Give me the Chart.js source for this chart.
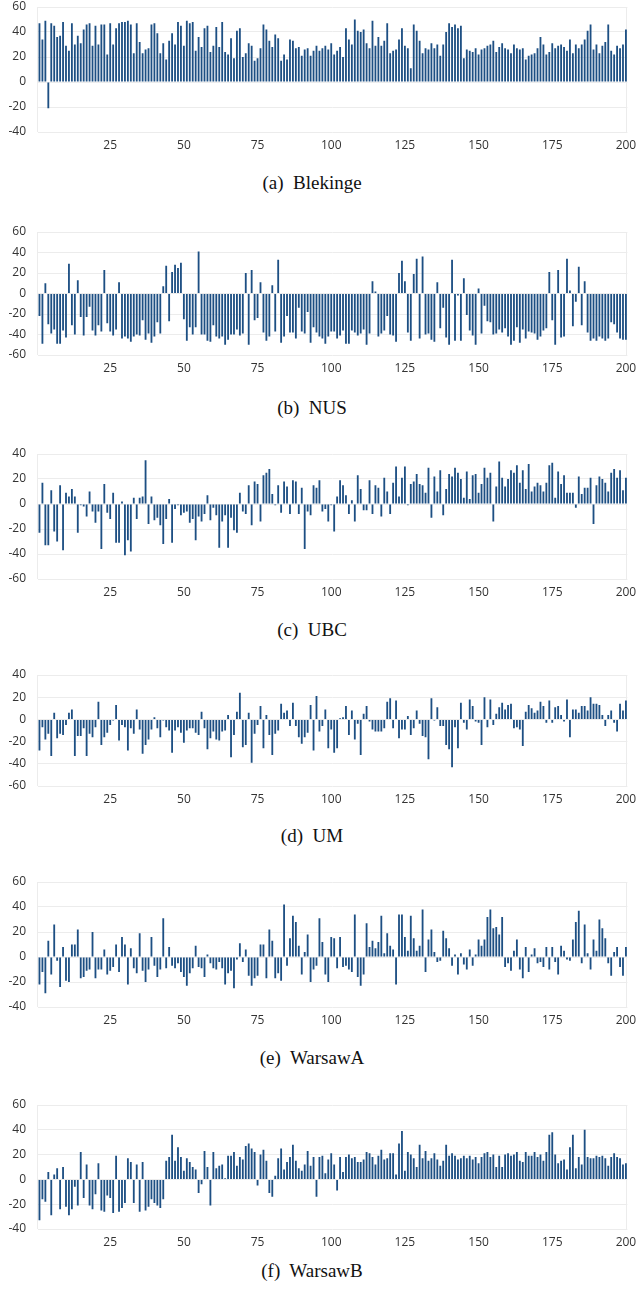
<!DOCTYPE html>
<html><head><meta charset="utf-8">
<script src="https://cdn.jsdelivr.net/npm/chart.js@4"></script>
<style>
html,body{margin:0;padding:0;background:#fff;}
body{width:636px;height:1289px;position:relative;overflow:hidden;}
canvas.panel{position:absolute;left:0;}
.cap{position:absolute;left:0;width:624px;text-align:center;font-family:"Liberation Serif","Times New Roman",serif;font-size:19px;line-height:20px;color:#111;white-space:pre;}
</style></head><body>
<script>
const categories = Array.from({length:200}, (_, i) => String(i + 1));
const tickLabelEvery = 25;

const blekinge = [47,34,49,-21,47,45,36,37,48,29, 25,47,30,37,31,42,46,47,29,45, 30,46,46,22,47,30,43,47,48,48, 49,46,23,47,32,23,26,27,46,47,
 39,23,31,18,33,39,30,48,45,29, 49,47,48,25,36,28,43,45,24,29, 44,28,48,24,22,35,19,41,43,20, 23,31,29,17,19,27,46,42,33,28,
 38,35,17,22,18,34,33,27,28,21, 26,27,21,25,29,25,27,29,26,31, 22,25,28,20,43,34,30,50,41,40, 42,31,27,49,29,36,29,33,47,23,
 25,26,34,43,29,27,11,46,41,33, 23,27,26,31,27,30,21,30,40,47, 44,46,43,45,19,26,25,24,27,22, 26,27,29,30,33,24,28,31,27,26,
 23,30,27,26,27,18,21,22,23,27, 36,30,22,24,31,27,29,30,28,25, 34,23,30,27,30,34,41,46,26,30, 23,29,32,46,25,22,29,27,30,42];

const nus = [-22,-49,10,-30,-39,-35,-49,-49,-36,-43, 29,-31,-40,13,-23,-41,-23,-13,-36,-41, -31,-37,23,-29,-37,-41,-35,11,-44,-42, -44,-47,-42,-40,-41,-26,-45,-39,-48,-42,
 -28,-39,7,27,-27,21,28,25,30,-25, -46,-33,-40,-33,41,-40,-40,-46,-47,-31, -42,-44,-42,-50,-45,-40,-40,-35,-41,-39, 20,-50,23,-26,-24,11,-38,-46,-42,8,
 -37,33,-48,-42,-22,-38,-38,-44,-14,-37, -39,-18,-48,-33,-38,-42,-44,-49,-42,-37, -37,-44,-41,-36,-49,-49,-36,-38,-41,-39, -35,-50,-39,12,2,-42,-39,-36,-22,-40,
 -41,-47,20,32,12,-38,-46,19,34,-44, 36,-40,-39,-45,-47,11,-34,-14,-43,-50, 33,-46,-2,-46,15,-21,-36,-41,-50,5, -39,-12,-27,-28,-40,-39,-35,-38,-34,-42,
 -50,-46,-33,-48,-35,-44,-37,-38,-39,-45, -42,-36,-34,21,-26,-50,23,-43,-42,34, 3,-32,-8,26,-31,12,-38,-46,-44,-46, -42,-44,-46,-44,-28,-30,-38,-44,-45,-45];

const ubc = [-23,17,-33,-33,11,-22,-30,15,-37,9, 6,12,6,-23,-1,-2,-10,10,-6,-15, -6,-36,16,-7,-12,9,-31,-31,2,-41, -29,-38,5,-12,5,6,35,-16,6,-13,
 -11,-17,-32,-12,4,-31,-4,-1,-9,-7, -6,-15,-12,-29,-10,-14,-8,7,-13,-3, -9,-35,-14,-9,-35,-11,-21,-23,9,-6, -8,15,-17,18,16,-14,23,25,28,8,
 -1,15,-7,18,14,-8,19,18,-8,13, -36,-6,-9,15,13,19,-6,-4,-14,-1, -22,6,19,15,7,-8,3,-14,23,12, -5,-5,19,-8,15,13,-10,21,10,-8,
 17,30,6,21,30,-1,16,18,24,16, 15,9,29,-11,22,10,27,-9,12,24, 22,29,25,20,5,26,4,23,24,9, 16,29,21,25,-14,14,34,21,14,20,
 27,25,31,17,27,12,32,10,14,17, 15,10,17,31,33,5,26,16,23,9, 9,9,-3,22,8,13,13,21,-16,15, 22,20,17,10,25,28,21,27,11,21];

const um = [-28,-7,-18,-13,-33,6,-17,-13,-14,-5, 6,9,-33,-15,-15,-8,-33,-13,-16,-7, 16,-23,-16,-12,-5,-1,13,-19,-5,-7, -28,-8,-13,9,-9,-31,-23,-18,-9,2,
 -8,-16,-1,-7,-10,-30,-10,-7,-12,-21, -10,-8,-8,-12,-14,7,-8,-27,-17,-11, -18,-19,-11,-10,4,-34,-14,7,24,-25, -23,6,-39,-13,-5,12,-26,4,-14,-32,
 -13,-10,14,6,8,-6,15,-6,-16,-22, -16,-12,13,-28,21,-11,-6,9,-26,-9, -30,-26,1,2,12,-14,8,-18,-4,-32, 5,12,-2,-9,-11,-11,-11,-8,16,19,
 -8,17,-17,-9,-9,3,-14,-8,8,-4, -15,-16,-36,19,-1,11,-6,-6,-23,-27, -43,-7,-26,15,-3,-9,18,12,-2,-3, -23,20,-7,18,-5,5,11,15,9,13,
 14,-8,-7,-9,-24,7,13,10,6,8, 16,12,-3,17,-3,11,12,4,-2,18, -16,9,9,6,12,12,8,20,14,14, 13,4,-6,4,8,-3,-11,14,8,17];

const warsawA = [-22,-12,-29,13,-14,26,-3,-24,8,-19, -20,10,10,22,-17,-16,-11,-10,20,-17, -10,-10,6,-14,-11,-8,10,-12,16,10, -22,7,-9,-13,19,-11,-20,-10,16,-7,
 -16,-10,31,-9,8,-7,-9,-5,-12,-16, -23,-13,-9,9,-8,-9,-16,2,-5,-9, -10,-4,-9,-22,-13,-11,-25,-2,11,-4, 6,-15,-23,-17,-15,10,10,-17,22,13,
 -17,-13,-19,42,-7,15,33,28,9,-14, 4,18,-20,-10,-7,31,12,-14,-20,16, 15,-9,16,-8,-7,-10,-12,34,-16,-23, -14,27,8,13,7,12,33,3,19,9,
 6,-22,34,34,16,5,33,15,5,9, 38,-12,14,22,4,-4,-3,21,15,7, -7,2,-14,3,-6,-10,6,-7,2,14, 9,14,32,38,23,24,18,32,-8,-5,
 -11,5,14,-10,-17,8,-12,2,7,-5, -4,-8,8,-10,8,-4,-14,9,5,-2, -3,14,28,37,-5,26,3,-10,14,5, 30,23,15,-5,-15,4,8,-8,-15,8];

const warsawB = [-33,-16,-18,6,-29,4,9,-24,10,-22, -29,-24,-6,-21,22,-15,12,-21,-24,-12, 13,-25,-26,-13,-15,-27,19,-26,-23,-19, 17,14,-19,12,-26,14,-25,-22,-16,-19,
 -21,-23,-16,15,18,36,15,26,18,7, 17,14,10,8,-11,-4,23,10,-21,22, 9,11,12,1,19,19,22,11,18,16, 27,29,25,22,-5,20,24,15,-11,-14,
 3,17,25,8,14,18,28,15,9,7, 12,23,11,18,-14,18,19,5,16,21, 12,-9,18,6,18,20,17,18,14,14, 16,22,21,18,12,19,24,16,17,21,
 21,4,29,39,7,22,20,17,10,28, 17,23,15,17,21,16,11,15,28,19, 21,19,16,17,19,17,19,16,18,13, 18,21,22,18,20,10,19,10,20,21,
 19,20,22,15,14,22,19,19,22,18, 20,15,22,36,38,20,13,15,16,8, 26,36,9,18,12,40,18,17,17,19, 18,19,17,11,18,21,18,17,12,13];

const captions = ['(a)  Blekinge','(b)  NUS','(c)  UBC','(d)  UM','(e)  WarsawA','(f)  WarsawB'];
const yRanges = [[-40,60],[-60,60],[-60,40],[-60,40],[-40,60],[-40,60]];
const seriesList = [blekinge, nus, ubc, um, warsawA, warsawB];

// layout (pixels): plot top, plot height, caption centre
const layoutInfo = [
  {top:7, h:125, cap:183},
  {top:232, h:123, cap:408},
  {top:454, h:125, cap:630},
  {top:675, h:111, cap:836},
  {top:882, h:125, cap:1058},
  {top:1105, h:124, cap:1271}
];
const W = 660, PLOT_LEFT = 38, PLOT_RIGHT = 627.4, PAD_TOP = 20, XAXIS_H = 25;

const framePlugin = {
  id: 'frame',
  beforeDatasetsDraw(chart) {
    const {ctx, chartArea: a} = chart;
    ctx.save();
    ctx.strokeStyle = '#ececec';
    ctx.lineWidth = 1;
    ctx.beginPath();
    ctx.moveTo(Math.round(a.left) - 0.5, a.top); ctx.lineTo(Math.round(a.left) - 0.5, a.bottom);
    ctx.moveTo(Math.round(a.right) - 0.5, a.top); ctx.lineTo(Math.round(a.right) - 0.5, a.bottom);
    ctx.stroke();
    ctx.restore();
  }
};

const tickFont = {family: "'Open Sans', 'Noto Sans', sans-serif", size: 12};

seriesList.forEach((values, k) => {
  const L = layoutInfo[k];
  const H = PAD_TOP + L.h + XAXIS_H;
  const cv = document.createElement('canvas');
  cv.className = 'panel';
  cv.width = W; cv.height = H;
  cv.style.width = W + 'px'; cv.style.height = H + 'px';
  cv.style.top = (L.top - PAD_TOP) + 'px';
  document.body.appendChild(cv);

  const cap = document.createElement('div');
  cap.className = 'cap';
  cap.style.top = (L.cap - 10) + 'px';
  cap.textContent = captions[k];
  document.body.appendChild(cap);

  new Chart(cv, {
    type: 'bar',
    data: {
      labels: categories,
      datasets: [{
        data: values,
        backgroundColor: '#1d4f83',
        borderWidth: 0,
        barPercentage: 0.62,
        categoryPercentage: 1
      }]
    },
    options: {
      responsive: false,
      animation: false,
      devicePixelRatio: 1,
      layout: {padding: {top: PAD_TOP, left: 0, right: W - PLOT_RIGHT, bottom: 0}},
      plugins: {legend: {display: false}, tooltip: {enabled: false}},
      scales: {
        x: {
          grid: {display: false, drawTicks: false},
          border: {display: false},
          ticks: {
            autoSkip: false, maxRotation: 0, minRotation: 0, padding: 6,
            color: '#333', font: tickFont,
            callback: (v, i) => ((i + 1) % tickLabelEvery === 0 ? categories[i] : '')
          },
          afterFit: s => { s.height = XAXIS_H; }
        },
        y: {
          min: yRanges[k][0], max: yRanges[k][1],
          ticks: {stepSize: 20, padding: 12, color: '#333', font: tickFont},
          grid: {color: '#ececec', drawTicks: false},
          border: {display: false},
          afterFit: s => { s.width = PLOT_LEFT; }
        }
      }
    },
    plugins: [framePlugin]
  });
});
</script>
</body></html>
